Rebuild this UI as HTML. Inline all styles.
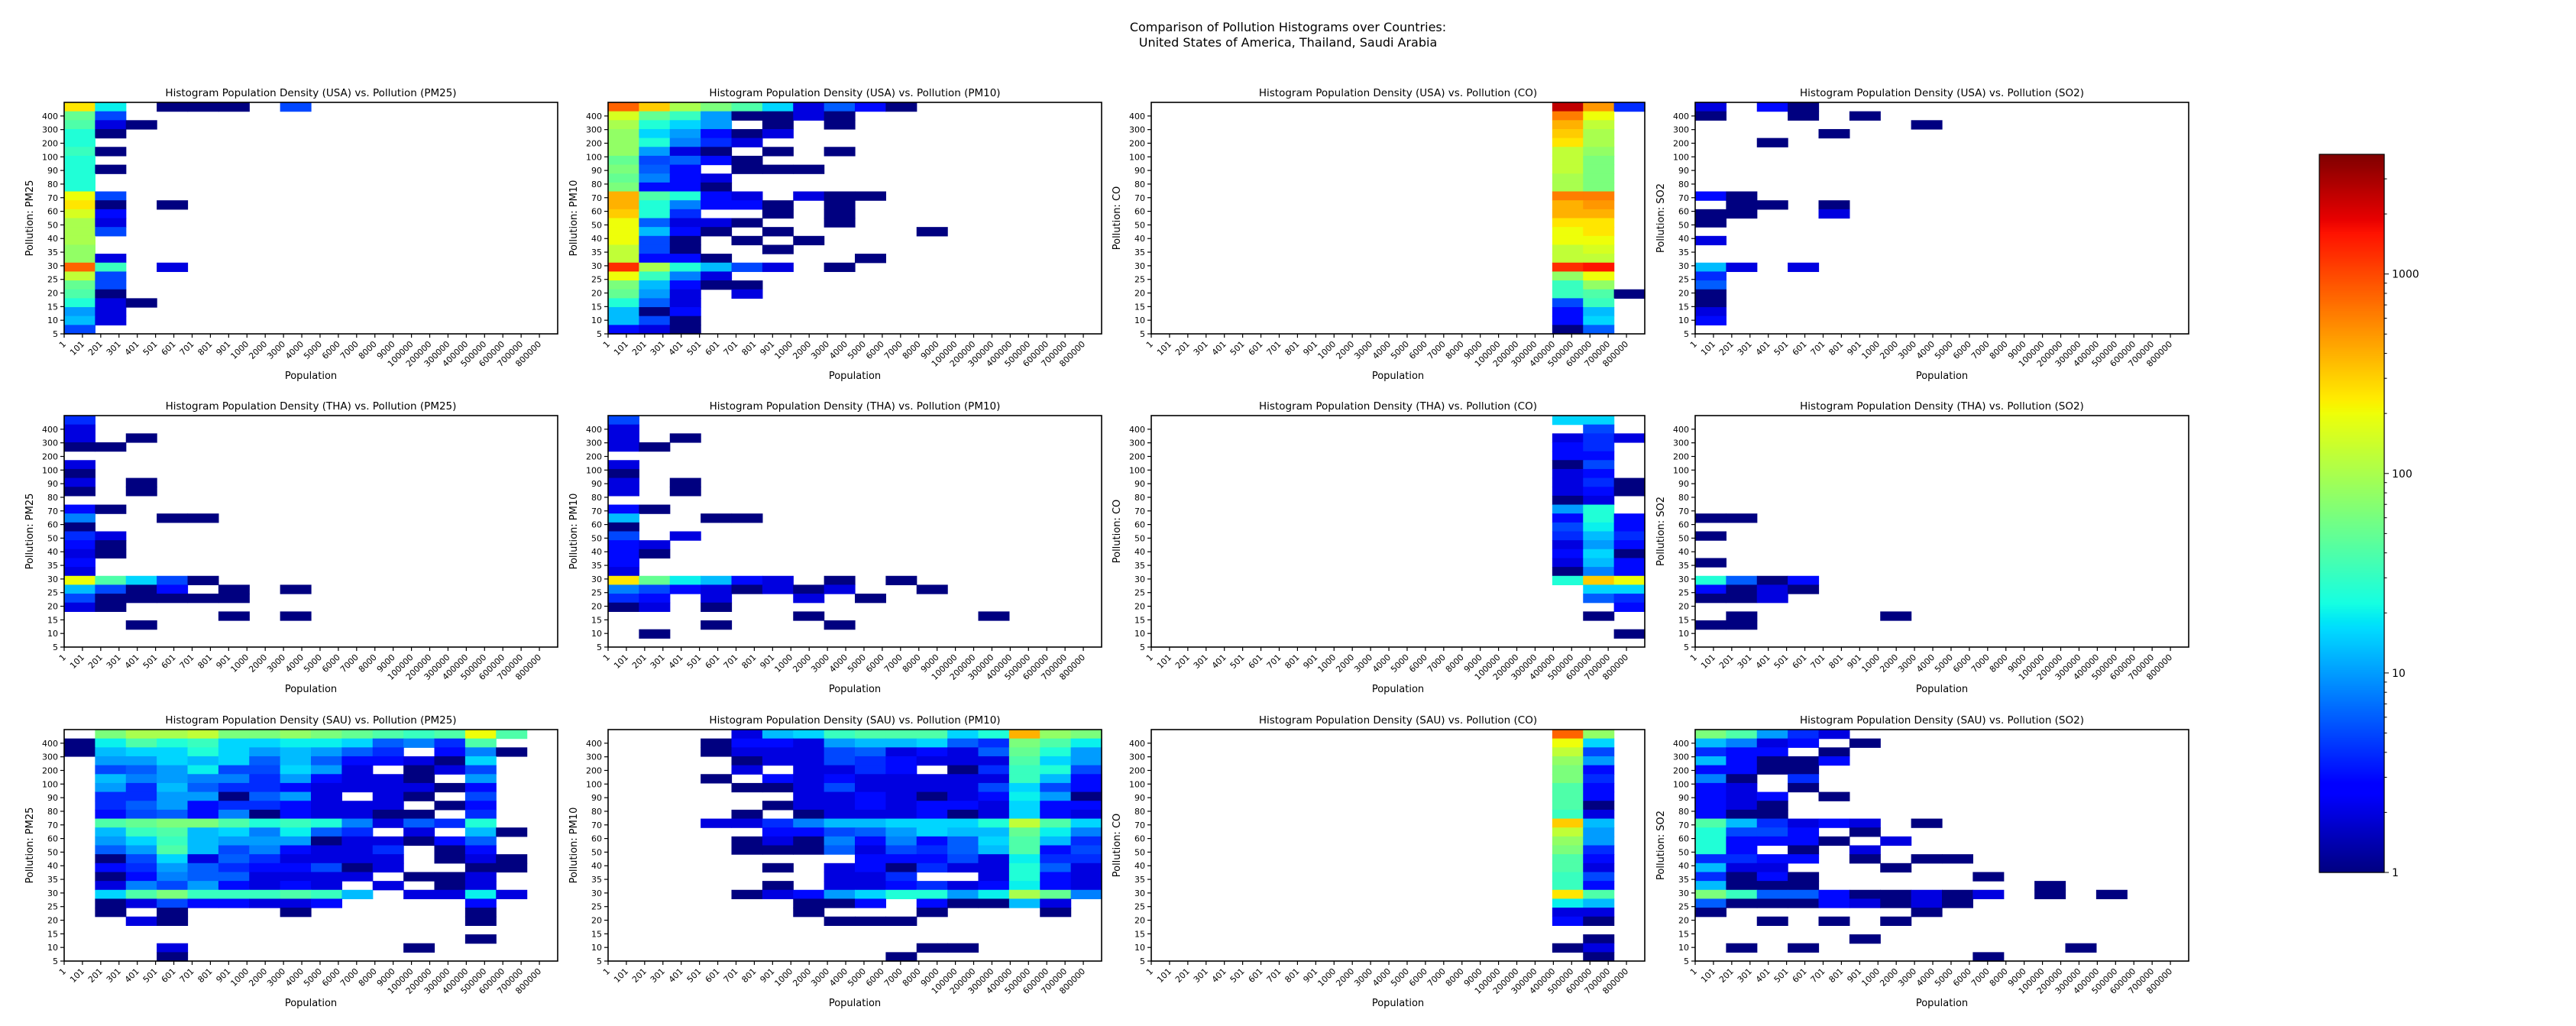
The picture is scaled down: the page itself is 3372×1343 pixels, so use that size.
<!DOCTYPE html>
<html><head><meta charset="utf-8"><title>Pollution Histograms</title>
<style>html,body{margin:0;padding:0;background:#fff}svg{display:block}text{font-family:"DejaVu Sans","Liberation Sans",sans-serif;fill:#000}</style>
</head><body>
<svg id="fig" width="3372" height="1343" viewBox="0 0 3372 1343" xmlns="http://www.w3.org/2000/svg">
<text x="1686" y="41" font-size="16" text-anchor="middle">Comparison of Pollution Histograms over Countries:</text>
<text x="1686" y="61" font-size="16" text-anchor="middle">United States of America, Thailand, Saudi Arabia</text>
</svg>
<script>
const xTickLabels = ["1","101","201","301","401","501","601","701","801","901","1000","2000","3000","4000","5000","6000","7000","8000","9000","100000","200000","300000","400000","500000","600000","700000","800000"];
const yTickLabels = ["5","10","15","20","25","30","35","40","50","60","70","80","90","100","200","300","400"];
const countries = ["USA","THA","SAU"];
const pollutants = ["PM25","PM10","CO","SO2"];
// cell codes: base-36 digit k => count 10^(k/10); "." = empty. Rows listed top to bottom, 16 columns.
const usaPm25 = ["o d . 0 0 0 . 7","h 7","g 2 0","e 0","e","f 0","e","e 0","e","e","n 7","o 0 . 0","m 4","k 2","k 7","k","j","j 3","t f . 3","l 7","h 7","g 0","e 3 0","a 3","b 3","7"];
const usaPm10 = ["t p k i g c 3 8 5 0","m h f a 0 0 3 0","k e c a . 0 . 0","j c a 4 0 3","j e 9 6 3","j a 3 0 . 0 . 0","h 7 8 4 0","i 8 5 . 0 0 0","h 9 5 2","i 4 4 0","q g e 4 3 . 3 0 0","q e 9 4 4 0 . 0","p e 6 . . 0 . 0","n 8 3 3 0 . . 0","n b 5 0 . 0 . . . . 0","n 7 0 . 0 . 0","l 7 0 . . 0","l 5 5 0 . . . . 0","v k e b 7 3 . 0","n f 9 3","i b 5 0 0","h a 3 . 3","e 8 3","b 0 4","b 7 0","5 3 0"];
const usaCo = [". . . . . . . . . . . . . y r 6",". . . . . . . . . . . . . s n",". . . . . . . . . . . . . q l",". . . . . . . . . . . . . p k",". . . . . . . . . . . . . o k",". . . . . . . . . . . . . l j",". . . . . . . . . . . . . l i",". . . . . . . . . . . . . l i",". . . . . . . . . . . . . k i",". . . . . . . . . . . . . k i",". . . . . . . . . . . . . s s",". . . . . . . . . . . . . q r",". . . . . . . . . . . . . q q",". . . . . . . . . . . . . o o",". . . . . . . . . . . . . n o",". . . . . . . . . . . . . n n",". . . . . . . . . . . . . l m",". . . . . . . . . . . . . l l",". . . . . . . . . . . . . v w",". . . . . . . . . . . . . j n",". . . . . . . . . . . . . f j",". . . . . . . . . . . . . f g 0",". . . . . . . . . . . . . 7 f",". . . . . . . . . . . . . 4 b",". . . . . . . . . . . . . 5 c",". . . . . . . . . . . . . 0 8"];
const usaSo2 = ["3 . 4 0","0 . . 0 . 0",". . . . . . . 0",". . . . 0",". . 0","","","","","","5 0",". 0 0 . 0","0 0 . . 3","0","","3","","","b 3 . 3","6","8","0","0","3","5",""];
const thaPm25 = ["6","2","2 . 0","0 0","","2","0","2 . 0","0 . 0","","4 0","9 . . 0 0","0","6 2","4 0","2 0","4","2","n g c 7 0","b 7 0 4 . 0 . 0","7 0 0 0 0 0","2 0",". . . . . 0 . 0",". . 0","",""];
const thaPm10 = ["7","2","2 . 0","2 0","","2","0","2 . 0","2 . 0","","4 0","b . . 0 0","0","7 . 2","4 2","5 0","5","2","o h d b 5 2 . 0 . 0","9 7 5 2 0 2 0 2 . . 0","6 4 . 2 . . 2 . 0","0 2 . 0",". . . . . . 0 . . . . . 0",". . . 0 . . . 0",". 0",""];
const thaCo = [". . . . . . . . . . . . . c c",". . . . . . . . . . . . . . 7",". . . . . . . . . . . . . 2 6 2",". . . . . . . . . . . . . 4 6",". . . . . . . . . . . . . 5 4",". . . . . . . . . . . . . 0 7",". . . . . . . . . . . . . 2 5",". . . . . . . . . . . . . 2 6 0",". . . . . . . . . . . . . 2 4 0",". . . . . . . . . . . . . 0 2",". . . . . . . . . . . . . a e",". . . . . . . . . . . . . 5 e 4",". . . . . . . . . . . . . 7 d 4",". . . . . . . . . . . . . 6 b 6",". . . . . . . . . . . . . 2 a 5",". . . . . . . . . . . . . 5 c 0",". . . . . . . . . . . . . 2 b 5",". . . . . . . . . . . . . 0 9 4",". . . . . . . . . . . . . e p n",". . . . . . . . . . . . . . c c",". . . . . . . . . . . . . . 8 6",". . . . . . . . . . . . . . . 4",". . . . . . . . . . . . . . 0","",". . . . . . . . . . . . . . . 0",""];
const thaSo2 = ["","","","","","","","","","","","0 0","","0","","","0","","e 8 0 4","5 0 2 0","0 0 2","",". 0 . . . . 0","0 0","",""];
const sauPm25 = [". i k k l i i j i h g f g n g","0 d g e f c c d d c 8 9 6 g","0 b c c e c a b a 8 6 . 4 9 0",". a a c b c 8 b 8 5 5 2 0 c",". 7 8 a d 7 7 c a 3 . 0 2 7",". b 9 a 9 9 6 a 5 2 2 0 . a",". a 6 b 8 6 6 4 2 2 2 2 0 5",". 6 6 a a 0 8 a 3 . 3 0 . 7",". 6 8 a 5 6 6 4 2 2 2 . 0 4",". 4 7 8 4 9 0 4 2 2 0 0 . 6",". g h i i g e f e 9 3 8 6 e",". b f g b c 9 d 8 6 . 2 . b 0",". a c f b a a a 0 3 2 0 4 8",". 8 a g b 7 9 5 3 3 6 . 0 5",". 0 7 c 2 8 6 2 3 2 3 . 0 3 0",". 4 6 a 8 6 5 4 7 0 2 . . 0 0",". 0 5 9 8 8 2 3 3 3 . 0 0 3",". 3 9 7 a 4 2 4 3 . 2 . 0 2",". c g i f f f g f b . 3 3 d 2",". 0 3 7 5 4 3 2 4 . . . . 5",". 0 . 0 . . . 0 . . . . . 0",". . 2 0 . . . . . . . . . 0","",". . . . . . . . . . . . . 0",". . . 2 . . . . . . . 0",". . . 0"];
const sauPm10 = [". . . . 2 b c f g g g c e q j i",". . . 0 5 5 3 a b b c 8 6 i g d",". . . 0 2 2 2 7 8 2 5 3 8 h e a",". . . . 0 2 2 7 6 4 2 3 3 g c a",". . . . 2 . 2 3 6 5 . 0 6 f e 7",". . . 0 . 5 3 4 3 3 3 3 2 f b 5",". . . . 0 0 2 7 3 2 2 2 7 c 7 5",". . . . . . 2 2 4 3 0 3 4 d a 0",". . . . . 0 3 2 4 3 5 5 3 c 5 5",". . . . 0 . 0 3 2 3 5 0 3 c 5 3",". . . 2 2 6 9 b b c c c e l g c",". . . . . 5 5 7 8 a c b b h d 9",". . . . 0 2 0 9 5 9 5 8 c g b 6",". . . . 0 0 0 8 3 7 6 8 b g 5 7",". . . . . . . . 5 5 5 7 3 d 6 6",". . . . . 0 . 3 5 0 6 3 2 e 8 2",". . . . . . . 2 3 6 . . 3 e 5 3",". . . . . 0 . 2 3 5 6 2 5 d 5 2",". . . . 0 3 5 a c e e a d k h 9",". . . . . . 0 0 5 . 5 0 0 b 3",". . . . . . 0 . . . 0 . . . 0",". . . . . . . 0 0 0","","",". . . . . . . . . . 0 0",". . . . . . . . . 0"];
const sauCo = [". . . . . . . . . . . . . t j",". . . . . . . . . . . . . n c",". . . . . . . . . . . . . l 7",". . . . . . . . . . . . . j a",". . . . . . . . . . . . . i 4",". . . . . . . . . . . . . i 6",". . . . . . . . . . . . . g 4",". . . . . . . . . . . . . g 5",". . . . . . . . . . . . . g 0",". . . . . . . . . . . . . f 2",". . . . . . . . . . . . . p b",". . . . . . . . . . . . . l a",". . . . . . . . . . . . . j a",". . . . . . . . . . . . . i 6",". . . . . . . . . . . . . g 5",". . . . . . . . . . . . . g 2",". . . . . . . . . . . . . f 7",". . . . . . . . . . . . . f 5",". . . . . . . . . . . . . o g",". . . . . . . . . . . . . d b",". . . . . . . . . . . . . 2 2",". . . . . . . . . . . . . 4 0","",". . . . . . . . . . . . . . 0",". . . . . . . . . . . . . 0 2",". . . . . . . . . . . . . . 0"];
const sauSo2 = ["i g a 6 2","b 9 2 4 . 0","6 5 4 . 0","b 5 0 0 4","5 4 0 0","9 0 . 6","5 2 . 0","5 2 4 . 0","5 2 0","4 0 0","g b 6 2 4 2 . 0","e 7 7 4 . 0","e 4 5 4 0 . 2","e 5 . 0 . 2","6 6 4 4 . 0 . 0 0","b 2 2 . . . 0","6 0 4 0 . . . . . 0","b 0 0 0 . . . . . . . 0","i f 8 8 4 0 0 2 0 2 . 0 . 0","8 0 0 0 5 2 0 2 0","0 . . . . . . 0",". . 0 . 0 . 0","",". . . . . 0",". 0 . 0 . . . . . . . . 0",". . . . . . . . . 0"];
const panelCodes = [[usaPm25,usaPm10,usaCo,usaSo2],[thaPm25,thaPm10,thaCo,thaSo2],[sauPm25,sauPm10,sauCo,sauSo2]];
const colorbarTicks = [1,10,100,1000];
const vmin = 1, vmax = 3981;

const NS = "http://www.w3.org/2000/svg";
const svg = document.getElementById("fig");
const NCOL = 16, NROW = 26;
const LEFTS = [84,796,1507,2219], TOPS = [134,544,955], PW = 646, PH = 303;

function mk(tag, attrs, parent){ const e = document.createElementNS(NS, tag); for (const k in attrs) e.setAttribute(k, attrs[k]); (parent||svg).appendChild(e); return e; }
function decodeCounts(rows){ return rows.map(r => { const t = r.trim() ? r.trim().split(/\s+/) : []; const out = []; for (let c=0;c<NCOL;c++){ const s = t[c]; out.push(!s || s==="." ? 0 : Math.round(Math.pow(10, parseInt(s,36)/10))); } return out; }); }
function interp(pts, x){ for (let i=1;i<pts.length;i++){ if (x<=pts[i][0]){ const a=pts[i-1], b=pts[i]; return a[1]+(b[1]-a[1])*(x-a[0])/(b[0]-a[0]); } } return pts[pts.length-1][1]; }
function jet(t){ t=Math.max(0,Math.min(1,t));
  const r=interp([[0,0],[0.35,0],[0.66,1],[0.89,1],[1,0.5]],t);
  const g=interp([[0,0],[0.125,0],[0.375,1],[0.64,1],[0.91,0],[1,0]],t);
  const b=interp([[0,0.5],[0.11,1],[0.34,1],[0.65,0],[1,0]],t);
  return "rgb("+Math.round(r*255)+","+Math.round(g*255)+","+Math.round(b*255)+")"; }
function norm(v){ return Math.log10(v/vmin)/Math.log10(vmax/vmin); }

for (let r=0;r<3;r++) for (let c=0;c<4;c++){
  const L=LEFTS[c], T=TOPS[r], B=T+PH;
  const counts = decodeCounts(panelCodes[r][c]);
  const g = mk("g",{});
  
  
  const xs = i => L + i*PW/NCOL, ys = j => T + j*PH/NROW;
  for (let j=0;j<NROW;j++) for (let i=0;i<NCOL;i++){
    const v = counts[j][i]; if (!v) continue;
    const cell = mk("rect",{x:xs(i).toFixed(2), y:ys(j).toFixed(2), width:(PW/NCOL+0.6).toFixed(2), height:(PH/NROW+0.6).toFixed(2), fill:jet(norm(v))}, g);
    
    
  }
  const frame = mk("rect",{x:L,y:T,width:PW,height:PH,fill:"none",stroke:"#000","stroke-width":1.6}, g);
  
  
  xTickLabels.forEach((lab,i)=>{ const x = L + i*PW/xTickLabels.length;
    mk("line",{x1:x,y1:B,x2:x,y2:B+5,stroke:"#000","stroke-width":1.2}, g);
    const t = mk("text",{x:x+3,y:B+14,"font-size":11,"text-anchor":"end",transform:"rotate(-45 "+(x+3)+" "+(B+14)+")"}, g); t.textContent = lab;
    
    
  });
  yTickLabels.forEach((lab,j)=>{ const y = B - j*PH/yTickLabels.length;
    mk("line",{x1:L-5,y1:y,x2:L,y2:y,stroke:"#000","stroke-width":1.2}, g);
    const t = mk("text",{x:L-8,y:y+4,"font-size":11,"text-anchor":"end"}, g); t.textContent = lab;
    
    
  });
  const title = mk("text",{x:L+PW/2,y:T-8,"font-size":13.5,"text-anchor":"middle"}, g);
  title.textContent = "Histogram Population Density ("+countries[r]+") vs. Pollution ("+pollutants[c]+")";
  
  
  const xl = mk("text",{x:L+PW/2,y:B+59,"font-size":13,"text-anchor":"middle"}, g);
  xl.textContent = "Population";
  
  
  const yx = L-41, yy = T+PH/2;
  const yl = mk("text",{x:yx,y:yy,"font-size":13,"text-anchor":"middle",transform:"rotate(-90 "+yx+" "+yy+")"}, g);
  yl.textContent = "Pollution: "+pollutants[c];
  
  
}

// colorbar
const CBL=3036, CBR=3121, CBT=202, CBB=1142;
const cb = mk("g",{});


const nSeg = 400;
for (let s=0;s<nSeg;s++){ const y0 = CBB - (s+1)*(CBB-CBT)/nSeg;
  mk("rect",{x:CBL,y:y0.toFixed(2),width:CBR-CBL,height:((CBB-CBT)/nSeg+0.6).toFixed(2),fill:jet((s+0.5)/nSeg)}, cb); }
mk("rect",{x:CBL,y:CBT,width:CBR-CBL,height:CBB-CBT,fill:"none",stroke:"#000","stroke-width":1.2}, cb);
const cy = v => CBB - norm(v)*(CBB-CBT);
for (let d=1; d<=1000; d*=10) for (let m=1;m<=9;m++){ const v=d*m; if (v>vmax) break;
  mk("line",{x1:CBR,y1:cy(v),x2:CBR+(m===1?6:3.5),y2:cy(v),stroke:"#000","stroke-width":1}, cb); }
colorbarTicks.forEach(v=>{ const t = mk("text",{x:CBR+10,y:cy(v)+5,"font-size":14}, cb); t.textContent = String(v);
  
   });
</script>
</body></html>
